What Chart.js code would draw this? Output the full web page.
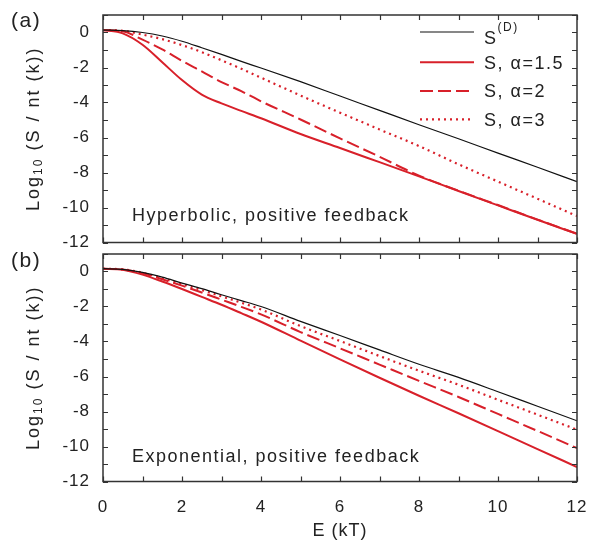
<!DOCTYPE html>
<html>
<head>
<meta charset="utf-8">
<script src="https://cdn.jsdelivr.net/npm/chart.js@4.4.1/dist/chart.umd.min.js"></script>
<style>
  body { margin: 0; background: #fff; }
  #wrap { position: relative; width: 589px; height: 548px; }
  canvas { position: absolute; left: 0; }
</style>
</head>
<body>
<div id="wrap">
  <canvas id="panelA" width="589" height="250" style="top:0"></canvas>
  <canvas id="panelB" width="589" height="298" style="top:250px"></canvas>
</div>
<script>
const energies = [0, 0.5, 1, 1.5, 2, 2.5, 3, 3.5, 4, 5, 6, 7, 8, 9, 10, 11, 12];
const xTicks = [0, 2, 4, 6, 8, 10, 12];
const yTicks = [-12, -10, -8, -6, -4, -2, 0];

const seriesLabels = ['S^(D)', 'S, α=1.5', 'S, α=2', 'S, α=3'];

// (a) hyperbolic, positive feedback
const hypDirect  = [0.14, 0.11, 0.0, -0.2, -0.5, -0.87, -1.25, -1.65, -2.03, -2.81, -3.63, -4.45, -5.27, -6.07, -6.89, -7.7, -8.52];
const hypAlpha15 = [0.14, -0.05, -0.7, -1.7, -2.72, -3.55, -4.05, -4.48, -4.9, -5.8, -6.6, -7.41, -8.22, -9.06, -9.88, -10.7, -11.51];
const hypAlpha2  = [0.14, 0.07, -0.41, -0.97, -1.62, -2.22, -2.83, -3.35, -3.93, -4.97, -6.05, -7.1, -8.18, -9.04, -9.86, -10.69, -11.5];
const hypAlpha3  = [0.14, 0.1, -0.12, -0.38, -0.72, -1.12, -1.59, -2.07, -2.58, -3.6, -4.58, -5.54, -6.49, -7.53, -8.52, -9.5, -10.49];

// (b) exponential, positive feedback
const expDirect  = [0.16, 0.12, -0.05, -0.32, -0.66, -0.98, -1.33, -1.66, -2.0, -2.85, -3.66, -4.48, -5.3, -6.05, -6.87, -7.7, -8.53];
const expAlpha15 = [0.16, 0.1, -0.18, -0.57, -1.0, -1.45, -1.9, -2.38, -2.87, -3.95, -5.02, -6.07, -7.1, -8.1, -9.12, -10.15, -11.17];
const expAlpha2  = [0.16, 0.11, -0.1, -0.44, -0.81, -1.2, -1.61, -2.02, -2.45, -3.46, -4.39, -5.32, -6.25, -7.17, -8.14, -9.11, -10.09];
const expAlpha3  = [0.16, 0.12, -0.07, -0.38, -0.72, -1.06, -1.42, -1.78, -2.17, -3.12, -3.97, -4.83, -5.67, -6.47, -7.33, -8.18, -9.04];

const RED = '#d8202a';
const seriesStyles = [
  { color: '#111111', width: 1.2, dash: [] },
  { color: RED, width: 2, dash: [] },
  { color: RED, width: 2, dash: [13, 5] },
  { color: RED, width: 2.2, dash: [2, 4] }
];

const FONT = 'Liberation Sans, Arial, sans-serif';
const TEXT = '#222222';

function drawRich(ctx, parts, x, y) {
  // parts: [{text, size, dy}] drawn left to right
  let cx = x;
  parts.forEach(p => {
    ctx.font = p.size + 'px ' + FONT;
    ctx.fillText(p.text, cx, y + (p.dy || 0));
    cx += ctx.measureText(p.text).width;
  });
  return cx;
}

function richWidth(ctx, parts) {
  let w = 0;
  parts.forEach(p => {
    ctx.font = p.size + 'px ' + FONT;
    w += ctx.measureText(p.text).width;
  });
  return w;
}

const panelDecor = {
  id: 'panelDecor',
  beforeDraw(chart) {
    chart.ctx.letterSpacing = '1px';
  },
  afterDraw(chart, args, opts) {
    const { ctx, chartArea: a, scales: { x, y } } = chart;
    ctx.save();

    // frame with inward ticks on all four sides
    ctx.strokeStyle = '#333';
    ctx.lineWidth = 1.5;
    ctx.strokeRect(a.left, a.top, a.right - a.left, a.bottom - a.top);
    ctx.lineWidth = 1.2;
    ctx.beginPath();
    for (let v = x.min; v <= x.max; v++) {
      const px = Math.round(x.getPixelForValue(v)) + 0.5;
      ctx.moveTo(px, a.bottom); ctx.lineTo(px, a.bottom - 5);
      ctx.moveTo(px, a.top); ctx.lineTo(px, a.top + 5);
    }
    for (let v = y.min; v <= y.max; v++) {
      const py = Math.round(y.getPixelForValue(v)) + 0.5;
      ctx.moveTo(a.left, py); ctx.lineTo(a.left + 5, py);
      ctx.moveTo(a.right, py); ctx.lineTo(a.right - 5, py);
    }
    ctx.stroke();

    ctx.fillStyle = TEXT;
    ctx.textBaseline = 'middle';
    ctx.textAlign = 'left';

    // panel letter
    ctx.letterSpacing = '1.5px';
    ctx.font = '21px ' + FONT;
    ctx.fillText(opts.label, 11, opts.labelY);

    // annotation inside the plot
    ctx.font = '18px ' + FONT;
    ctx.fillText(opts.note, 132, opts.noteY);

    // rotated y title with subscript
    ctx.letterSpacing = '2px';
    const titleParts = [
      { text: 'Log', size: 18 },
      { text: '10', size: 12, dy: 5 },
      { text: ' (S / nt (k))', size: 18 }
    ];
    const tw = richWidth(ctx, titleParts);
    ctx.save();
    ctx.translate(34, (a.top + a.bottom) / 2);
    ctx.rotate(-Math.PI / 2);
    drawRich(ctx, titleParts, -tw / 2, 0);
    ctx.restore();

    // legend
    if (opts.legend) {
      const lineY = [32, 62.3, 91, 119.3];
      const textY = [39, 64.5, 92, 121];
      ctx.letterSpacing = '1.5px';
      chart.data.datasets.forEach((ds, i) => {
        ctx.save();
        ctx.strokeStyle = ds.borderColor;
        ctx.lineWidth = ds.borderWidth;
        ctx.setLineDash(ds.borderDash || []);
        ctx.beginPath();
        ctx.moveTo(420, lineY[i]);
        ctx.lineTo(474, lineY[i]);
        ctx.stroke();
        ctx.restore();
        const [main, sup] = ds.label.split('^');
        const parts = [{ text: main, size: 18 }];
        if (sup) parts.push({ text: sup, size: 12, dy: -11 });
        drawRich(ctx, parts, 484, textY[i]);
      });
    }

    ctx.restore();
    ctx.letterSpacing = '0px';
  }
};

function buildPanel(canvasId, series, panel) {
  const datasets = series.map((vals, i) => ({
    label: seriesLabels[i],
    data: energies.map((e, k) => ({ x: e, y: vals[k] })),
    borderColor: seriesStyles[i].color,
    borderWidth: seriesStyles[i].width,
    borderDash: seriesStyles[i].dash,
    pointRadius: 0,
    fill: false,
    cubicInterpolationMode: 'monotone'
  }));

  return new Chart(document.getElementById(canvasId), {
    type: 'line',
    data: { datasets },
    options: {
      responsive: false,
      animation: false,
      devicePixelRatio: 1,
      layout: { padding: { top: panel.top, right: 12, left: 0, bottom: 0 } },
      plugins: {
        legend: { display: false },
        tooltip: { enabled: false },
        panelDecor: panel
      },
      scales: {
        x: {
          type: 'linear',
          min: 0,
          max: 12,
          grid: { display: false, drawTicks: false },
          border: { display: false },
          afterBuildTicks: s => { s.ticks = xTicks.map(v => ({ value: v })); },
          afterFit: s => {
            s.height = panel.xHeight;
            s.paddingLeft = 0; s.paddingRight = 0;
          },
          ticks: {
            display: panel.xLabels,
            padding: 16,
            maxRotation: 0,
            color: TEXT,
            font: { family: FONT, size: 17 }
          },
          title: {
            display: panel.xLabels,
            text: 'E (kT)',
            color: TEXT,
            padding: { top: 0, bottom: 6 },
            font: { family: FONT, size: 18 }
          }
        },
        y: {
          type: 'linear',
          min: -12,
          max: 1,
          grid: { display: false, drawTicks: false },
          border: { display: false },
          afterBuildTicks: s => { s.ticks = yTicks.map(v => ({ value: v })); },
          afterFit: s => {
            s.width = 103;
            s.paddingTop = 0; s.paddingBottom = 0;
          },
          ticks: {
            padding: 13,
            color: TEXT,
            font: { family: FONT, size: 17 }
          }
        }
      }
    },
    plugins: [panelDecor]
  });
}

buildPanel('panelA', [hypDirect, hypAlpha15, hypAlpha2, hypAlpha3], {
  top: 15, xHeight: 7.5, xLabels: false,
  label: '(a)', labelY: 21,
  note: 'Hyperbolic, positive feedback', noteY: 216,
  legend: true
});

buildPanel('panelB', [expDirect, expAlpha15, expAlpha2, expAlpha3], {
  top: 4, xHeight: 66.5, xLabels: true,
  label: '(b)', labelY: 11,
  note: 'Exponential, positive feedback', noteY: 207,
  legend: false
});
</script>
</body>
</html>
